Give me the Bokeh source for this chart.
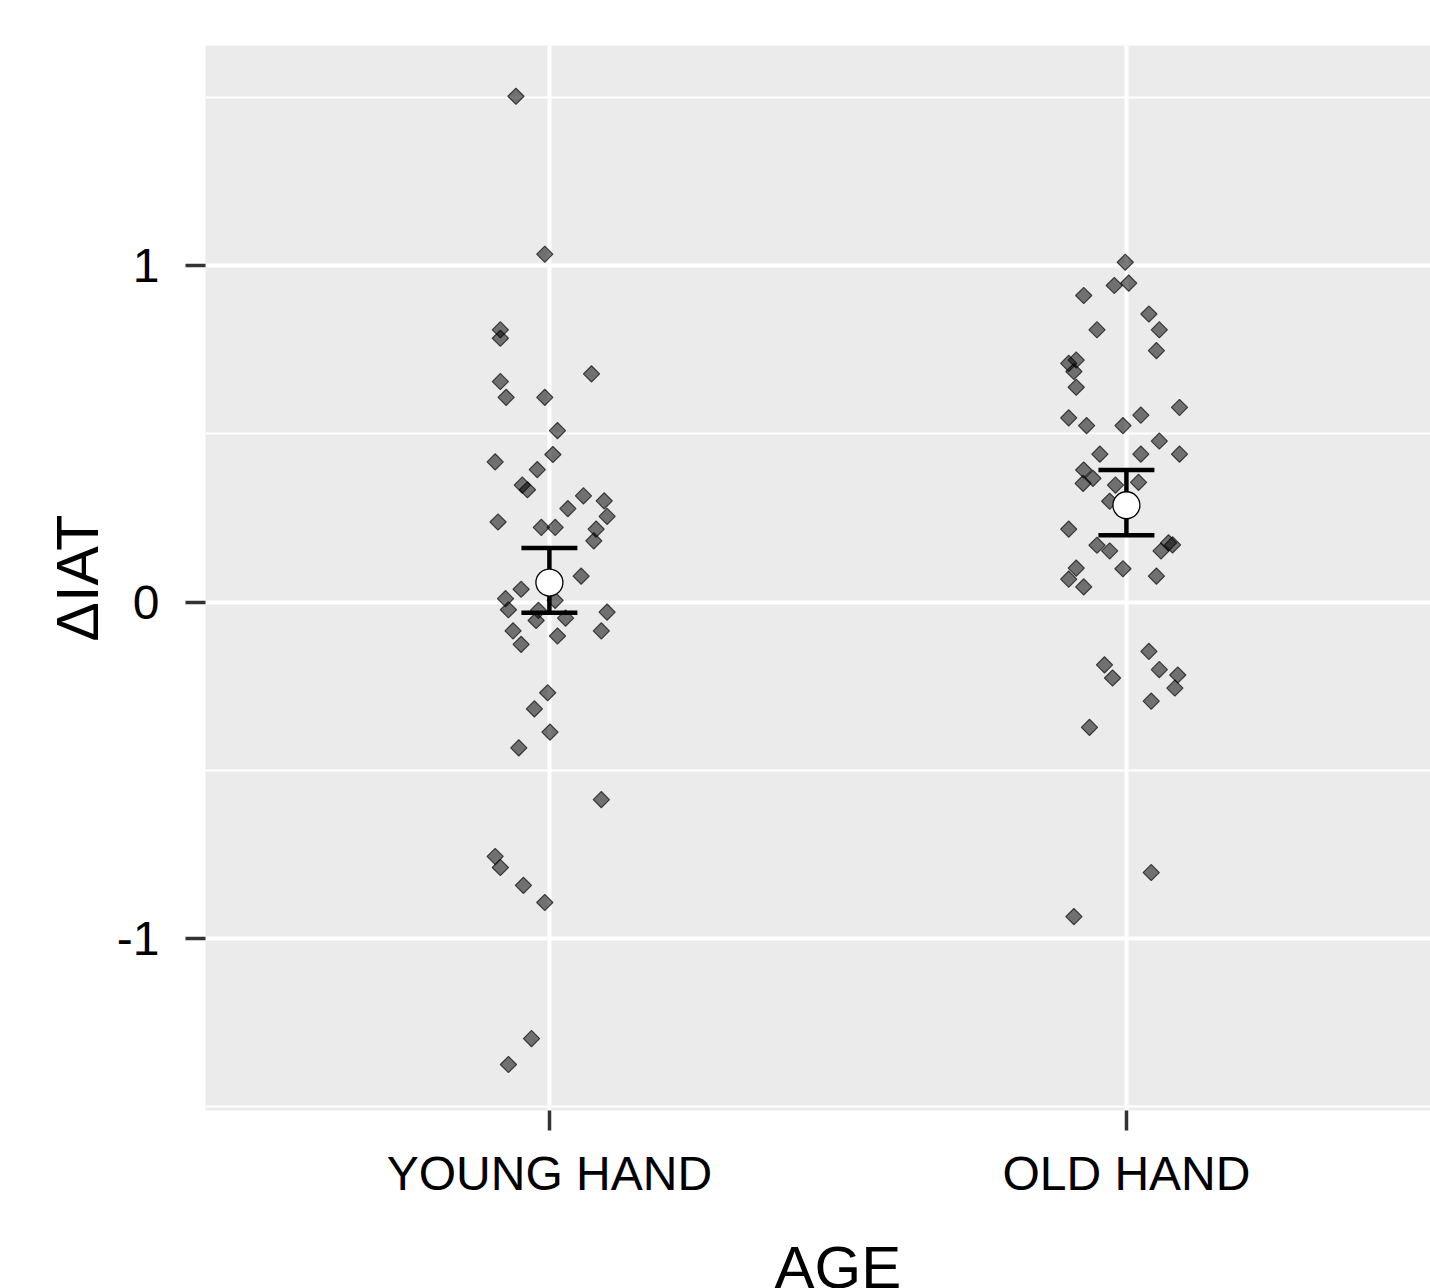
import math
from bokeh.plotting import figure
from bokeh.models import ColumnDataSource, FixedTicker, Range1d, Label
from bokeh.embed import file_html
from bokeh.resources import INLINE

# ---------------- data ----------------
categories = ["YOUNG HAND", "OLD HAND"]
cat_pos = [1, 2]

young_vals = [1.505, 1.035, 0.81, 0.785, 0.679, 0.656, 0.609, 0.609, 0.510, 0.439,
              0.417, 0.394, 0.348, 0.334, 0.316, 0.301, 0.278, 0.255, 0.238, 0.222,
              0.222, 0.217, 0.182, 0.077, 0.038, 0.010, 0.005, -0.023, -0.025, -0.030,
              -0.048, -0.055, -0.086, -0.086, -0.101, -0.126, -0.270, -0.318, -0.387,
              -0.434, -0.588, -0.757, -0.790, -0.843, -0.894, -1.299, -1.376]
young_jitter = [-0.058, -0.008, -0.085, -0.085, 0.073, -0.085, -0.075, -0.008, 0.014, 0.006,
                -0.094, -0.021, -0.047, -0.038, 0.059, 0.095, 0.032, 0.100, -0.089, -0.014,
                0.010, 0.081, 0.077, 0.055, -0.049, -0.076, 0.010, -0.071, -0.019, 0.100,
                0.028, -0.023, -0.063, 0.090, 0.014, -0.049, -0.003, -0.026, 0.001,
                -0.053, 0.090, -0.094, -0.085, -0.045, -0.008, -0.031, -0.071]

old_vals = [1.011, 0.942, 0.949, 0.912, 0.857, 0.810, 0.810, 0.748, 0.710, 0.720,
            0.686, 0.639, 0.579, 0.548, 0.556, 0.525, 0.525, 0.479, 0.440, 0.440,
            0.440, 0.393, 0.368, 0.353, 0.348, 0.356, 0.300, 0.217, 0.169, 0.152,
            0.101, 0.068, 0.045, 0.099, 0.077, 0.152, 0.176, 0.170, -0.147, -0.187,
            -0.226, -0.201, -0.217, -0.256, -0.295, -0.373, -0.805, -0.936]
old_jitter = [-0.002, -0.021, 0.004, -0.074, 0.039, -0.051, 0.057, 0.052, -0.100, -0.087,
              -0.091, -0.087, 0.092, -0.100, 0.025, -0.069, -0.006, 0.057, -0.046, 0.025,
              0.092, -0.074, -0.058, -0.075, -0.019, 0.021, -0.029, -0.100, -0.051, -0.029,
              -0.087, -0.100, -0.074, -0.006, 0.052, 0.060, 0.073, 0.080, 0.039, -0.038,
              -0.024, 0.057, 0.089, 0.084, 0.043, -0.064, 0.043, -0.091]

means = [0.058, 0.288]
lower = [-0.032, 0.199]
upper = [0.161, 0.393]

y_ticks = [-1, 0, 1]
y_minor = [-1.5, -0.5, 0.5, 1.5]

x_title = "AGE"
y_title = "\u0394IAT"

FONT = "Liberation Sans"

# ---------------- figure ----------------
W, H = 1430, 1288
B_LEFT, B_TOP, B_BOTTOM = 205, 45, 178
y_start, y_end = -1.513, 1.656
x_lo, x_hi_full = 0.4, 2.6   # full discrete range (panel is cropped on the right)

p = figure(width=W, height=H, output_backend="svg", toolbar_location=None,
           x_range=Range1d(0.404, 2.527), y_range=Range1d(y_start, y_end))
p.min_border_left = B_LEFT
p.min_border_top = B_TOP
p.min_border_bottom = B_BOTTOM
p.min_border_right = 0
p.background_fill_color = "#EBEBEB"
p.border_fill_color = "white"
p.outline_line_color = None

# grids
p.xgrid.grid_line_color = "white"
p.xgrid.grid_line_width = 4
p.ygrid.grid_line_color = "white"
p.ygrid.grid_line_width = 4
p.ygrid.minor_grid_line_color = "white"
p.ygrid.minor_grid_line_width = 2.2

# axes
p.xaxis.ticker = FixedTicker(ticks=cat_pos)
p.xaxis.major_label_overrides = {pos: lab for pos, lab in zip(cat_pos, categories)}
p.yaxis.ticker = FixedTicker(ticks=y_ticks, minor_ticks=y_minor)
p.yaxis.major_label_overrides = {1: "1", 0: "0", -1: "-1"}

for ax in (p.xaxis[0], p.yaxis[0]):
    ax.axis_line_color = None
    ax.major_tick_line_color = "#333333"
    ax.major_tick_line_width = 3.5
    ax.major_tick_out = 20
    ax.major_tick_in = 0
    ax.minor_tick_line_color = None
    ax.major_label_text_font = FONT
    ax.major_label_text_font_size = "48px"
    ax.major_label_text_color = "black"
    ax.axis_label_text_font = FONT
    ax.axis_label_text_font_size = "59px"
    ax.axis_label_text_font_style = "normal"
    ax.axis_label_text_color = "black"

p.yaxis.axis_label = y_title
p.xaxis.major_label_standoff = 16
p.yaxis.major_label_standoff = 26
p.yaxis.axis_label_standoff = 3

# x-axis title in the lower border panel, centred on the full ggplot panel
p.add_layout(Label(x=(x_lo + x_hi_full) / 2, y=2, x_units="data", y_units="screen",
                   text=x_title, text_align="center", text_baseline="alphabetic",
                   text_font=FONT, text_font_size="60px", text_color="black"), "below")

# ---------------- points ----------------
px = [cat_pos[0] + j for j in young_jitter] + [cat_pos[1] + j for j in old_jitter]
py = young_vals + old_vals
src = ColumnDataSource(dict(x=px, y=py))
p.scatter("x", "y", source=src, marker="square", angle=math.pi / 4, size=11.5,
          fill_color="black", fill_alpha=0.52, line_color="black", line_alpha=0.65,
          line_width=1.2)

# ---------------- error bars + means ----------------
half_w = 0.0485
esrc = ColumnDataSource(dict(x=cat_pos, lo=lower, hi=upper, m=means,
                             x0=[c - half_w for c in cat_pos],
                             x1=[c + half_w for c in cat_pos]))
p.segment(x0="x", y0="lo", x1="x", y1="hi", source=esrc, line_color="black", line_width=4.5)
p.segment(x0="x0", y0="lo", x1="x1", y1="lo", source=esrc, line_color="black", line_width=4.5)
p.segment(x0="x0", y0="hi", x1="x1", y1="hi", source=esrc, line_color="black", line_width=4.5)
p.scatter("x", "m", source=esrc, marker="circle", size=27, fill_color="white",
          line_color="black", line_width=1.3)

open("out.html", "w").write(file_html(p, INLINE))
